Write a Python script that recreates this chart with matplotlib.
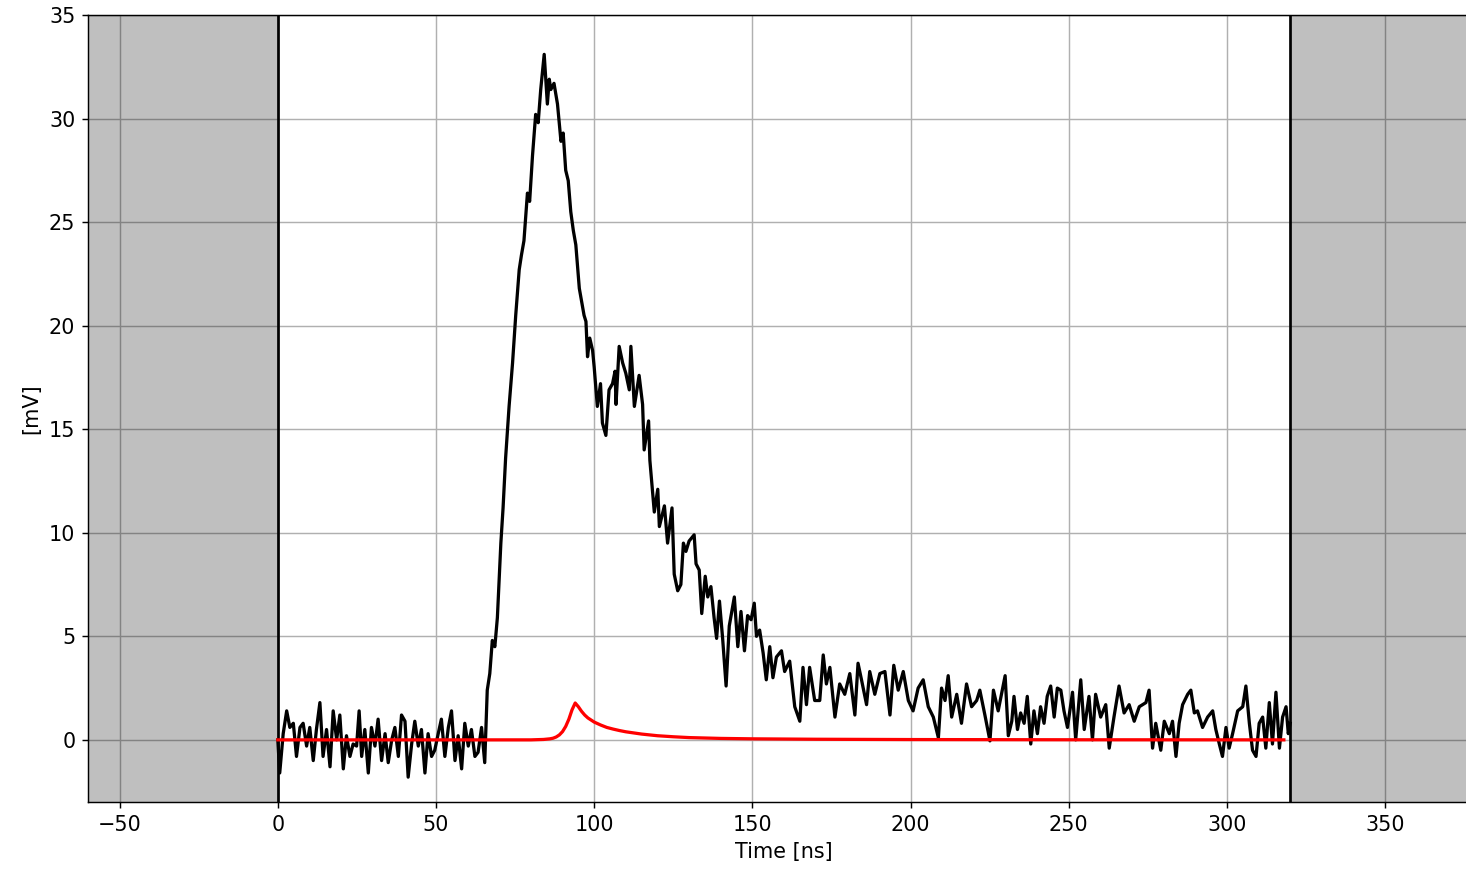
import matplotlib
matplotlib.use("Agg")
import matplotlib.pyplot as plt

t_ns = [0.0, 0.6, 1.7, 2.8, 3.8, 4.9, 5.9, 7.0, 8.0, 9.1, 10.1, 11.2, 12.2, 13.3, 14.3,
        15.4, 16.5, 17.5, 18.6, 19.6, 20.7, 21.7, 22.8, 23.8, 24.9, 25.7, 26.5, 27.5,
        28.6, 29.6, 30.7, 31.7, 32.8, 33.9, 34.9, 36.0, 37.0, 38.1, 39.1, 40.2, 41.2,
        42.3, 43.3, 44.4, 45.4, 46.5, 47.5, 48.6, 49.6, 50.7, 51.7, 52.8, 53.9, 54.9,
        56.0, 57.0, 58.1, 59.1, 60.2, 61.2, 62.3, 63.3, 64.4, 65.4, 66.2, 67.0, 67.8,
        68.6, 69.4, 70.5, 71.2, 72.0, 73.1, 74.2, 75.2, 76.3, 77.0, 77.8, 78.9, 79.6,
        80.5, 81.5, 82.3, 83.1, 84.2, 85.2, 85.8, 86.3, 87.3, 88.4, 89.5, 90.2, 91.0,
        91.8, 92.6, 93.4, 94.2, 95.3, 96.0, 96.8, 97.4, 97.9, 98.6, 99.5, 100.0, 101.0,
        102.0, 102.6, 103.7, 104.7, 105.8, 106.6, 106.9, 107.9, 109.0, 110.0, 111.1,
        111.6, 112.7, 114.2, 115.3, 115.8, 117.2, 117.6, 118.5, 119.0, 120.1, 120.6,
        122.2, 123.2, 124.6, 125.3, 126.4, 127.4, 128.2, 129.0, 130.0, 131.6, 132.2,
        133.2, 134.0, 135.1, 135.9, 136.9, 137.9, 138.7, 139.6, 140.6, 141.7, 142.7,
        144.3, 145.4, 146.4, 147.5, 148.5, 149.6, 150.6, 151.3, 152.3, 153.4, 154.4,
        155.5, 156.5, 157.6, 159.2, 160.2, 161.8, 163.4, 165.0, 166.0, 167.1, 168.1,
        169.7, 171.3, 172.4, 173.4, 174.5, 176.1, 177.6, 179.2, 180.8, 182.4, 183.4,
        184.5, 186.1, 187.1, 188.7, 190.3, 191.9, 193.5, 194.7, 196.1, 197.7, 199.3,
        200.8, 202.4, 204.0, 205.6, 207.2, 208.8, 209.8, 210.9, 211.9, 213.0, 214.6,
        216.1, 217.7, 219.3, 220.9, 221.9, 223.5, 225.1, 226.2, 227.7, 229.9, 230.9,
        232.0, 232.7, 233.8, 234.8, 235.9, 236.9, 238.0, 239.0, 240.1, 241.1, 242.2,
        243.2, 244.3, 245.4, 246.4, 247.5, 248.5, 249.6, 251.2, 252.2, 253.8, 254.9,
        256.4, 257.5, 258.5, 260.1, 261.7, 262.8, 264.3, 265.9, 267.5, 269.1, 270.7,
        272.3, 274.4, 275.4, 276.5, 277.5, 279.1, 280.2, 281.8, 282.8, 283.9, 284.9,
        286.0, 287.6, 288.6, 289.7, 290.7, 292.3, 293.9, 295.5, 296.5, 297.6, 298.6,
        299.7, 300.7, 301.8, 303.4, 305.0, 306.0, 307.1, 308.1, 309.2, 310.2, 311.3,
        312.3, 313.4, 314.4, 315.5, 316.6, 317.6, 318.7, 319.4, 320.0]
v_mv = [0.0, -1.6, 0.3, 1.4, 0.6, 0.8, -0.8, 0.6, 0.8, -0.3, 0.6, -1.0, 0.5, 1.8, -0.8,
        0.5, -1.3, 1.4, 0.0, 1.2, -1.4, 0.2, -0.8, -0.2, -0.3, 1.4, -0.8, 0.5,
        -1.6, 0.6, -0.3, 1.0, -1.0, 0.3, -1.1, 0.0, 0.6, -0.8, 1.2, 0.9, -1.8,
        -0.2, 0.9, -0.3, 0.5, -1.6, 0.3, -0.8, -0.5, 0.3, 1.0, -0.8, 0.6, 1.4,
        -1.0, 0.2, -1.4, 0.8, -0.3, 0.5, -0.8, -0.6, 0.6, -1.1, 2.4, 3.2, 4.8,
        4.5, 5.9, 9.5, 11.2, 13.6, 16.1, 18.2, 20.5, 22.7, 23.4, 24.1, 26.4, 26.0,
        28.2, 30.2, 29.8, 31.4, 33.1, 30.7, 31.9, 31.4, 31.7, 30.7, 28.9, 29.3, 27.5,
        27.0, 25.5, 24.6, 23.9, 21.8, 21.2, 20.5, 20.2, 18.5, 19.4, 18.8, 18.0, 16.1,
        17.2, 15.3, 14.7, 16.9, 17.2, 17.8, 16.2, 19.0, 18.2, 17.7, 16.9,
        19.0, 16.1, 17.6, 16.2, 14.0, 15.4, 13.5, 11.9, 11.0, 12.1, 10.3,
        11.3, 9.5, 11.2, 8.0, 7.2, 7.5, 9.5, 9.1, 9.6, 9.9, 8.5,
        8.2, 6.1, 7.9, 6.9, 7.4, 5.9, 4.9, 6.7, 4.9, 2.6, 5.5,
        6.9, 4.5, 6.2, 4.3, 6.0, 5.8, 6.6, 5.0, 5.3, 4.2, 2.9,
        4.5, 3.0, 4.0, 4.3, 3.3, 3.8, 1.6, 0.9, 3.5, 1.7, 3.5,
        1.9, 1.9, 4.1, 2.7, 3.5, 1.1, 2.7, 2.2, 3.2, 1.2, 3.7,
        2.9, 1.7, 3.3, 2.2, 3.2, 3.3, 1.2, 3.6, 2.4, 3.3, 1.9,
        1.4, 2.5, 2.9, 1.6, 1.1, 0.1, 2.5, 1.9, 3.1, 1.1, 2.2,
        0.8, 2.7, 1.6, 1.9, 2.4, 1.2, -0.05, 2.4, 1.4, 3.1, 0.2,
        0.9, 2.1, 0.5, 1.3, 0.8, 2.1, -0.2, 1.4, 0.3, 1.6, 0.8,
        2.1, 2.6, 1.1, 2.5, 2.4, 1.4, 0.6, 2.3, 0.0, 2.9, 0.5,
        2.1, 0.0, 2.2, 1.1, 1.7, -0.4, 1.1, 2.6, 1.3, 1.7, 0.9,
        1.6, 1.8, 2.4, -0.4, 0.8, -0.5, 0.9, 0.3, 0.9, -0.8, 0.8,
        1.7, 2.2, 2.4, 1.3, 1.4, 0.6, 1.1, 1.4, 0.5, -0.2, -0.8,
        0.6, -0.4, 0.3, 1.4, 1.6, 2.6, 0.8, -0.5, -0.8, 0.8, 1.1,
        -0.4, 1.8, -0.2, 2.3, -0.4, 1.1, 1.6, 0.3, 0.8]

# model / fit curve
t_fit = [0, 80, 84, 86, 87, 88, 89, 90, 91, 92, 93, 94, 95, 96, 97, 98, 100, 102,
         104, 106, 108, 110, 115, 120, 125, 130, 140, 150, 170, 200, 250, 318]
v_fit = [0.0, 0.0, 0.02, 0.05, 0.08, 0.14, 0.24, 0.4, 0.65, 1.0, 1.45, 1.78, 1.6,
         1.38, 1.2, 1.06, 0.86, 0.72, 0.6, 0.52, 0.45, 0.39, 0.28, 0.2, 0.15, 0.11,
         0.07, 0.05, 0.03, 0.015, 0.005, 0.0]

window = (0, 320)
xlim = (-60, 380)
ylim = (-3, 35)

plt.rcParams["font.size"] = 11.5

fig = plt.figure(figsize=(1466 / 130, 869 / 130), dpi=130)
ax = fig.add_axes([88 / 1466, 1 - 802 / 869, (1480 - 88) / 1466, (802 - 15) / 869])

ax.grid(True)
ax.axvspan(xlim[0], window[0], color="black", alpha=0.25, lw=0, zorder=2)
ax.axvspan(window[1], xlim[1], color="black", alpha=0.25, lw=0, zorder=2)
ax.axvline(window[0], color="black", lw=1.5, zorder=2.5)
ax.axvline(window[1], color="black", lw=1.5, zorder=2.5)

ax.plot(t_ns, v_mv, color="black", lw=1.8, zorder=3)
ax.plot(t_fit, v_fit, color="red", lw=1.8, zorder=4)

ax.set_xlim(*xlim)
ax.set_ylim(*ylim)
ax.set_xlabel("Time [ns]")
ax.set_ylabel("[mV]")

fig.savefig("out.png", dpi=130)
